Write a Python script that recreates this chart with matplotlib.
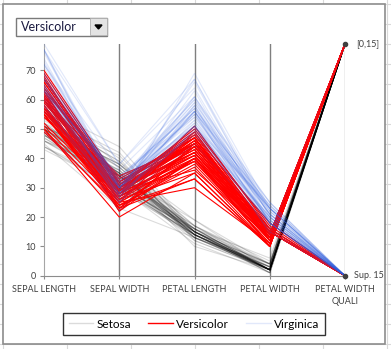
import matplotlib
matplotlib.use('Agg')
import matplotlib.pyplot as plt
from matplotlib.patches import Rectangle, Polygon
from matplotlib.lines import Line2D
import numpy as np

plt.rcParams['font.family'] = ['Lato', 'DejaVu Sans']

# Axes of the parallel plot
axes_labels = ['SEPAL LENGTH', 'SEPAL WIDTH', 'PETAL LENGTH', 'PETAL WIDTH', 'PETAL WIDTH\nQUALI']
species_names = ['Setosa', 'Versicolor', 'Virginica']

# Iris data in mm, 50 rows per species (setosa, versicolor, virginica)
sepal_length = [51, 49, 47, 46, 50, 54, 46, 50, 44, 49, 54, 48, 48, 43, 58, 57, 54, 51, 57, 51,
                54, 51, 46, 51, 48, 50, 50, 52, 52, 47, 48, 54, 52, 55, 49, 50, 55, 49, 44, 51,
                50, 45, 44, 50, 51, 48, 51, 46, 53, 50,
                70, 64, 69, 55, 65, 57, 63, 49, 66, 52, 50, 59, 60, 61, 56, 67, 56, 58, 62, 56,
                59, 61, 63, 61, 64, 66, 68, 67, 60, 57, 55, 55, 58, 60, 54, 60, 67, 63, 56, 55,
                55, 61, 58, 50, 56, 57, 57, 62, 51, 57,
                63, 58, 71, 63, 65, 76, 49, 73, 67, 72, 65, 64, 68, 57, 58, 64, 65, 77, 77, 60,
                69, 56, 77, 63, 67, 72, 62, 61, 64, 72, 74, 79, 64, 63, 61, 77, 63, 64, 60, 69,
                67, 69, 58, 68, 67, 67, 63, 65, 62, 59]
sepal_width = [35, 30, 32, 31, 36, 39, 34, 34, 29, 31, 37, 34, 30, 30, 40, 44, 39, 35, 38, 38,
               34, 37, 36, 33, 34, 30, 34, 35, 34, 32, 31, 34, 41, 42, 31, 32, 35, 36, 30, 34,
               35, 23, 32, 35, 38, 30, 38, 32, 37, 33,
               32, 32, 31, 23, 28, 28, 33, 24, 29, 27, 20, 30, 22, 29, 29, 31, 30, 27, 22, 25,
               32, 28, 25, 28, 29, 30, 28, 30, 29, 26, 24, 24, 27, 27, 30, 34, 31, 23, 30, 25,
               26, 30, 26, 23, 27, 30, 29, 29, 25, 28,
               33, 27, 30, 29, 30, 30, 25, 29, 25, 36, 32, 27, 30, 25, 28, 32, 30, 38, 26, 22,
               32, 28, 28, 27, 33, 32, 28, 30, 28, 30, 28, 38, 28, 28, 26, 30, 34, 31, 30, 31,
               31, 31, 27, 32, 33, 30, 25, 30, 34, 30]
petal_length = [14, 14, 13, 15, 14, 17, 14, 15, 14, 15, 15, 16, 14, 11, 12, 15, 13, 14, 17, 15,
                17, 15, 10, 17, 19, 16, 16, 15, 14, 16, 16, 15, 15, 14, 15, 12, 13, 14, 13, 15,
                13, 13, 13, 16, 19, 14, 16, 14, 15, 14,
                47, 45, 49, 40, 46, 45, 47, 33, 46, 39, 35, 42, 40, 47, 36, 44, 45, 41, 45, 39,
                48, 40, 49, 47, 43, 44, 48, 50, 45, 35, 38, 37, 39, 51, 45, 45, 47, 44, 41, 40,
                44, 46, 40, 33, 42, 42, 42, 43, 30, 41,
                60, 51, 59, 56, 58, 66, 45, 63, 58, 61, 51, 53, 55, 50, 51, 53, 55, 67, 69, 50,
                57, 49, 67, 49, 57, 60, 48, 49, 56, 58, 61, 64, 56, 51, 56, 61, 56, 55, 48, 54,
                56, 51, 51, 59, 57, 52, 50, 52, 54, 51]
petal_width = [2, 2, 2, 2, 2, 4, 3, 2, 2, 1, 2, 2, 1, 1, 2, 4, 4, 3, 3, 3,
               2, 4, 2, 5, 2, 2, 4, 2, 2, 2, 2, 4, 1, 2, 2, 2, 2, 1, 2, 2,
               3, 3, 2, 6, 4, 3, 2, 2, 2, 2,
               14, 15, 15, 13, 15, 13, 16, 10, 13, 14, 10, 15, 10, 14, 13, 14, 15, 10, 15, 11,
               18, 13, 15, 12, 13, 14, 14, 17, 15, 10, 11, 10, 12, 16, 15, 16, 15, 13, 13, 13,
               12, 14, 12, 10, 13, 12, 13, 13, 11, 13,
               25, 19, 21, 18, 22, 21, 17, 18, 18, 25, 20, 19, 21, 20, 24, 23, 18, 22, 23, 15,
               23, 20, 20, 18, 21, 18, 18, 18, 21, 16, 19, 20, 22, 15, 14, 23, 24, 18, 18, 21,
               24, 23, 19, 23, 25, 23, 19, 20, 23, 18]
species = [0] * 50 + [1] * 50 + [2] * 50

# Qualitative petal width: [0,15] plotted at the top, Sup. 15 at the bottom
quali_threshold = 15
quali_levels = {'[0,15]': 79, 'Sup. 15': 0}

W, H = 391, 349
fig = plt.figure(figsize=(W / 100, H / 100), dpi=100)

# spreadsheet background and chart area, in pixel coordinates
bg = fig.add_axes([0, 0, 1, 1])
bg.set_xlim(0, W)
bg.set_ylim(H, 0)
bg.axis('off')
for x in np.arange(2.5, W, 64):
    bg.plot([x, x], [0, H], color='#d9d9d9', lw=0.8, zorder=0)
for y in np.arange(4.3, H, 20):
    bg.plot([0, W], [y, y], color='#d9d9d9', lw=0.8, zorder=0)
bg.add_patch(Rectangle((2.5, 4.3), 382.5, 339.7, facecolor='white',
                       edgecolor='#8c8c8c', lw=1.2, zorder=1))

# dropdown box
bg.add_patch(Rectangle((15.5, 17.5), 91.5, 18, facecolor='white', edgecolor='#7a7a7a', lw=1, zorder=2))
bg.add_patch(Rectangle((90, 18.3), 16.5, 16.5, facecolor='#e3e3e3', edgecolor='#b0b0b0', lw=0.6, zorder=3))
bg.add_patch(Polygon([[95, 25], [102, 25], [98.5, 29]], closed=True, color='black', zorder=4))
bg.text(20.5, 27, 'Versicolor', fontsize=9, color='#1a1a40', va='center', ha='left', zorder=4)

# main plot area
left, right, top, bottom = 44, 345, 44, 275.7
ax = fig.add_axes([left / W, 1 - bottom / H, (right - left) / W, (bottom - top) / H])
ax.set_facecolor('none')

x = np.arange(len(axes_labels))
colors = ['black', '#ff0000', '#2f5fe0']
alphas = [0.14, 1.0, 0.14]
for s in range(3):
    for i in range(len(species)):
        if species[i] != s:
            continue
        q = quali_levels['[0,15]'] if petal_width[i] < quali_threshold else quali_levels['Sup. 15']
        vals = [sepal_length[i], sepal_width[i], petal_length[i], petal_width[i], q]
        ax.plot(x, vals, color=colors[s], alpha=alphas[s], lw=0.8, zorder=2 + s,
                solid_joinstyle='miter')

# end points of the qualitative axis
ax.plot([4, 4], [quali_levels['[0,15]'], quali_levels['Sup. 15']], ls='none', marker='o',
        ms=3, color='#404040', zorder=6, clip_on=False)
ax.text(4.15, quali_levels['[0,15]'], '[0,15]', fontsize=6.5, color='#404040', va='center')
ax.text(4.12, quali_levels['Sup. 15'], 'Sup. 15', fontsize=6.5, color='#404040', va='center')

ax.set_xlim(0, 4)
ax.set_ylim(0, 79)
ax.set_yticks(range(0, 80, 10))
ax.set_xticks(x)
ax.set_xticklabels(axes_labels, fontsize=6.5, color='#404040', linespacing=1.5)
ax.tick_params(axis='y', labelsize=6.5, labelcolor='#404040', length=3, color='#8c8c8c', pad=3)
ax.tick_params(axis='x', length=2.5, color='#8c8c8c', pad=4)
for xi in [1, 2, 3]:
    ax.axvline(xi, color='#7f7f7f', lw=1, zorder=1)
ax.axvline(4, color='#b0b0b0', lw=1, zorder=1)
ax.spines['top'].set_visible(False)
ax.spines['right'].set_visible(False)
ax.spines['left'].set_color('#a6a6a6')
ax.spines['bottom'].set_color('#8c8c8c')

# legend
handles = [Line2D([], [], color=colors[s], alpha=alphas[s] if s != 1 else 1, lw=1) for s in range(3)]
leg = fig.legend(handles, species_names, loc='center', bbox_to_anchor=(194 / W, 1 - 324 / H),
                 ncol=3, fontsize=8.5, frameon=True, fancybox=False, handlelength=2.1,
                 handletextpad=0.3, columnspacing=1.4, borderpad=0.5, borderaxespad=0)
leg.get_frame().set_edgecolor('black')
leg.get_frame().set_linewidth(1)

fig.savefig('out.png', dpi=100)
